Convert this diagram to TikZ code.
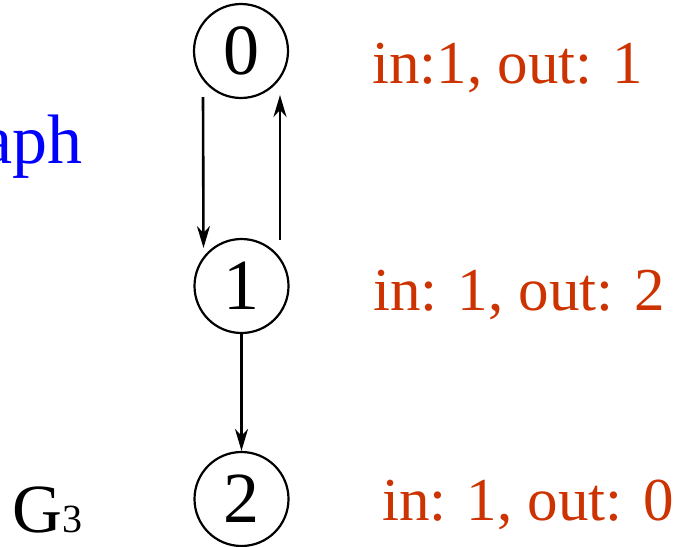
\documentclass[tikz,border=0pt]{standalone}
\usepackage{fontspec}
\setmainfont{Liberation Serif}
\usetikzlibrary{arrows.meta,calc}
\definecolor{deg}{RGB}{204,51,0}
\definecolor{gblue}{RGB}{0,0,255}
\begin{document}
\begin{tikzpicture}[x=1pt,y=-1pt,
  vtx/.style={draw=black,line width=2.2pt,circle,minimum size=94pt,inner sep=0pt,
    font=\fontsize{72}{72}\selectfont},
  arr/.style={line width=2.6pt,-{Stealth[length=22pt,width=13pt,inset=7pt]}},
  degtext/.style={anchor=base west,inner sep=0pt,text=deg,font=\fontsize{61}{61}\selectfont}]
\useasboundingbox (0,0) rectangle (676,546);
\clip (0,0) rectangle (676,546);
\node[vtx] (n0) at (241,51) {0};
\node[vtx] (n1) at (241.5,286) {1};
\node[vtx] (n2) at (241.5,499) {2};
\draw[arr] ($(n0.center)+(-38,46)$) -- ($(n1.center)+(-38,-38)$);
\draw[arr] ($(n1.center)+(38.5,-46)$) -- ($(n0.center)+(39,44)$);
\draw[arr] (n1.south) -- (n2.north);
\node[degtext] (d0) at (372,83) {in:1, out: 1};
\node[degtext] (d1) at (373,310) {in: 1, out: 2};
\node[degtext] (d2) at (382,520) {in: 1, out: 0};
\node[anchor=base east,inner sep=0pt,text=gblue,font=\fontsize{70}{70}\selectfont] (gr) at (83,163) {aph};
\node[anchor=base west,inner sep=0pt,font=\fontsize{69}{69}\selectfont] (g3) at (12,532) {G{\fontsize{40}{40}\selectfont 3}};
\end{tikzpicture}
\end{document}
